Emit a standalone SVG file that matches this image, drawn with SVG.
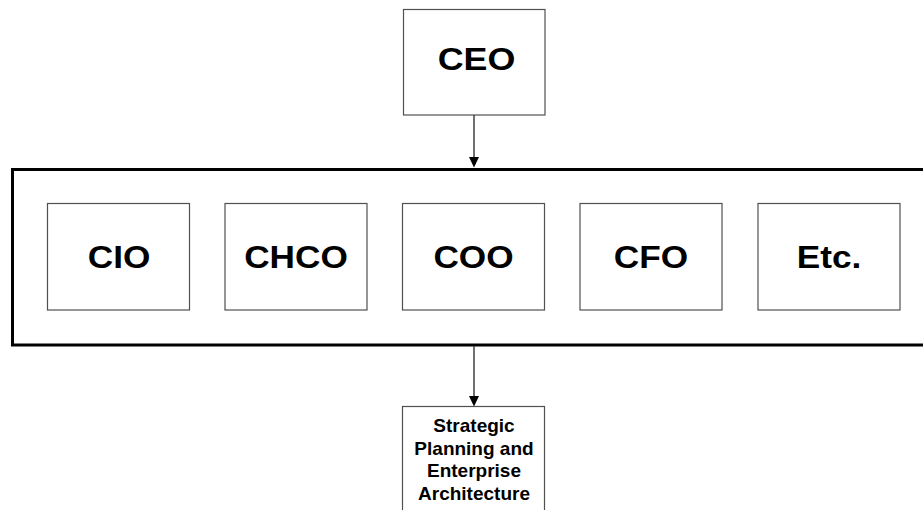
<svg xmlns="http://www.w3.org/2000/svg" width="923" height="510" viewBox="0 0 923 510">
<style>
.box{fill:#fff;stroke:#505050;stroke-width:1.2}
.big{font-family:"Liberation Sans",Arial,sans-serif;font-weight:bold;font-size:32px;fill:#000;text-anchor:middle}
.small{font-family:"Liberation Sans",Arial,sans-serif;font-weight:bold;font-size:19px;fill:#000;text-anchor:middle}
.conn{stroke:#404040;stroke-width:1.5;fill:none}
.head{fill:#000}
</style>
<rect width="923" height="510" fill="#fff"/>
<g id="group">
<rect x="12.5" y="169.5" width="915" height="175.5" fill="none" stroke="#000" stroke-width="3"/>
</g>
<g id="ceo">
<rect class="box" x="403.5" y="9.5" width="141.5" height="105.5"/>
<text class="big" transform="translate(476.5,69.5) scale(1.12,1)">CEO</text>
</g>
<g id="cio">
<rect class="box" x="47.5" y="203.5" width="142" height="106.5"/>
<text class="big" transform="translate(119,267.5) scale(1.1,1)">CIO</text>
</g>
<g id="chco">
<rect class="box" x="225" y="203.5" width="142" height="106.5"/>
<text class="big" transform="translate(296,267.5) scale(1.1,1)">CHCO</text>
</g>
<g id="coo">
<rect class="box" x="402.5" y="203.5" width="142" height="106.5"/>
<text class="big" transform="translate(473.5,267.5) scale(1.1,1)">COO</text>
</g>
<g id="cfo">
<rect class="box" x="580" y="203.5" width="142" height="106.5"/>
<text class="big" transform="translate(651,267.5) scale(1.1,1)">CFO</text>
</g>
<g id="etc">
<rect class="box" x="758" y="203.5" width="142" height="106.5"/>
<text class="big" transform="translate(829,267.5) scale(1.1,1)">Etc.</text>
</g>
<g id="spea">
<rect class="box" x="402.5" y="406.5" width="142" height="120"/>
<text class="small" x="474" y="432">Strategic</text>
<text class="small" x="474" y="454.5">Planning and</text>
<text class="small" x="474" y="477">Enterprise</text>
<text class="small" x="474" y="499.5">Architecture</text>
</g>
<g id="connectors">
<line class="conn" x1="474" y1="115" x2="474" y2="158"/>
<polygon class="head" points="469,157 479,157 474,167.5"/>
<line class="conn" x1="474" y1="346" x2="474" y2="397"/>
<polygon class="head" points="469,396 479,396 474,406.5"/>
</g>
</svg>
